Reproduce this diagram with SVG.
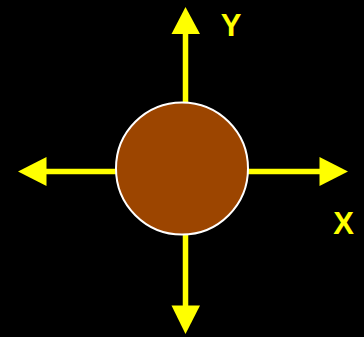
<svg xmlns="http://www.w3.org/2000/svg" width="364" height="337" viewBox="0 0 364 337">
<style>
.ax{stroke:#ffff00;stroke-width:5.5;fill:none}
.hd{fill:#ffff00;stroke:none}
.lbl{font-family:"Liberation Sans",Arial,sans-serif;font-weight:bold;font-size:31px;fill:#ffff00;text-anchor:middle}
</style>
<rect x="0" y="0" width="364" height="337" fill="#000000"/>
<g id="connectors">
<line class="ax" x1="185.5" y1="102" x2="185.5" y2="32"/>
<polygon class="hd" points="185.5,7 171.5,34 200,34"/>
<line class="ax" x1="185.5" y1="235" x2="185.5" y2="307"/>
<polygon class="hd" points="185.5,334 171.5,305.5 200,305.5"/>
<line class="ax" x1="116" y1="171.5" x2="45" y2="171.5"/>
<polygon class="hd" points="18,171.5 46.5,157 46.5,186"/>
<line class="ax" x1="248" y1="171.5" x2="321" y2="171.5"/>
<polygon class="hd" points="348,171.5 319.5,157 319.5,186"/>
</g>
<g id="ball">
<circle cx="182" cy="168.5" r="66" fill="#9c4500" stroke="#ffffff" stroke-width="2"/>
</g>
<g id="label-y"><text class="lbl" x="231" y="36">Y</text></g>
<g id="label-x"><text class="lbl" x="343.5" y="233.5">X</text></g>
</svg>
